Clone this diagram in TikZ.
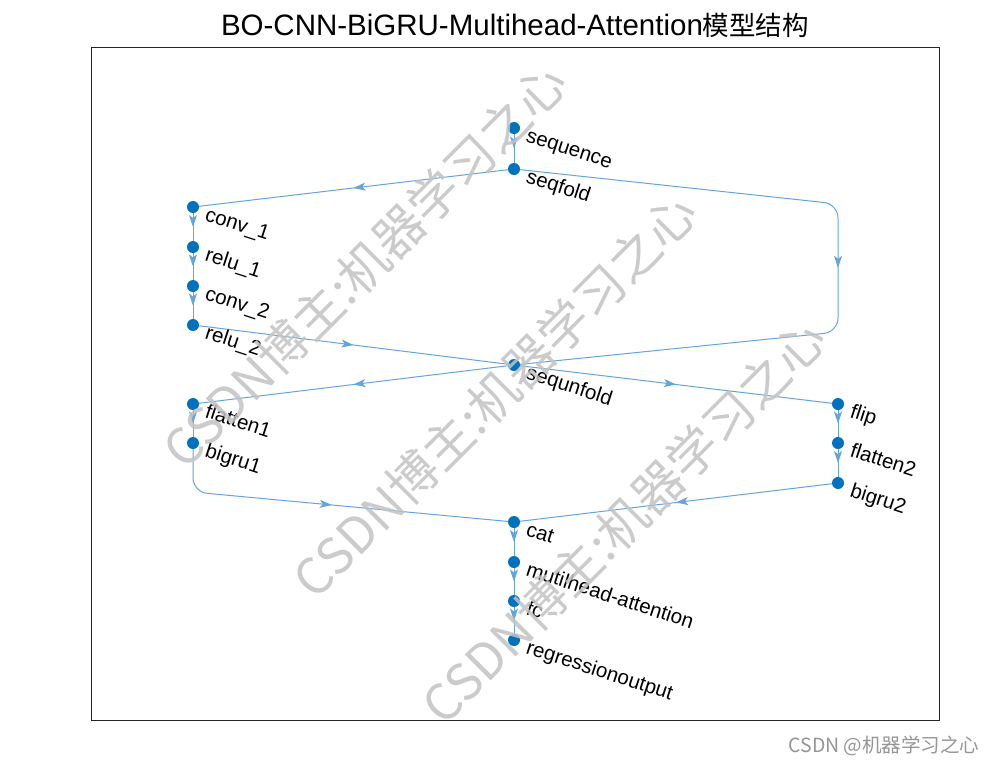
\documentclass[tikz,border=0pt]{standalone}
\usepackage{fontspec}
\setmainfont{Liberation Sans}
\newfontfamily\cjk{Noto Sans CJK SC}
\usetikzlibrary{arrows.meta,decorations.markings,backgrounds}
\definecolor{nodeblue}{RGB}{0,114,189}
\definecolor{edgeblue}{RGB}{100,165,222}
\definecolor{wmgray}{RGB}{195,195,195}
\definecolor{axisgray}{RGB}{38,38,38}
\tikzset{
  lay/.style={circle,fill=nodeblue,inner sep=0pt,minimum size=12pt},
  lab/.style={anchor=base west,rotate=-18,inner sep=0pt,font=\fontsize{20.5}{22}\selectfont,text=black},
  conn/.style={draw=edgeblue,line width=1pt,postaction={decorate},
    decoration={markings,mark=at position 0.5 with {\arrow[edgeblue]{Stealth[length=12pt,width=8pt,inset=3pt]}}}},
  wmark/.style={rotate=45,text=wmgray,font=\cjk\fontsize{50}{52}\selectfont,inner sep=0pt,opacity=0.85}
}
\begin{document}
\begin{tikzpicture}[x=1pt,y=-1pt]
\useasboundingbox (0,0) rectangle (1000,764);
% axes frame
\draw[axisgray,line width=0.8pt] (91,47) rectangle (939,720);
% title
\node (title) at (515,25) {\fontsize{29.5}{31}\selectfont BO-CNN-BiGRU-Multihead-Attention{\cjk\fontsize{26.5}{28}\selectfont 模型结构}};
% layers
\node[lay] (seq)  at (514,128) {};
\node[lay] (fold) at (514,169) {};
\node[lay] (c1)   at (193,207) {};
\node[lay] (r1)   at (193,247) {};
\node[lay] (c2)   at (193,286) {};
\node[lay] (r2)   at (193,325) {};
\node[lay] (unf)  at (514,365) {};
\node[lay] (fl1)  at (193,404) {};
\node[lay] (bg1)  at (193,443) {};
\node[lay] (flip) at (838,404) {};
\node[lay] (fl2)  at (838,443) {};
\node[lay] (bg2)  at (838,483) {};
\node[lay] (cat)  at (514,522) {};
\node[lay] (mha)  at (514,562) {};
\node[lay] (fc)   at (514,601) {};
\node[lay] (reg)  at (514,640) {};
% labels
\node[lab] (lseq)  at ([shift={(11,13)}]seq.center)  {sequence};
\node[lab] (lfold) at ([shift={(11,13)}]fold.center) {seqfold};
\node[lab] (lc1)   at ([shift={(11,13)}]c1.center)   {conv\_1};
\node[lab] (lr1)   at ([shift={(11,13)}]r1.center)   {relu\_1};
\node[lab] (lc2)   at ([shift={(11,13)}]c2.center)   {conv\_2};
\node[lab] (lr2)   at ([shift={(11,13)}]r2.center)   {relu\_2};
\node[lab] (lunf)  at ([shift={(11,13)}]unf.center)  {sequnfold};
\node[lab] (lfl1)  at ([shift={(11,13)}]fl1.center)  {flatten1};
\node[lab] (lbg1)  at ([shift={(11,13)}]bg1.center)  {bigru1};
\node[lab] (lflip) at ([shift={(11,13)}]flip.center) {flip};
\node[lab] (lfl2)  at ([shift={(11,13)}]fl2.center)  {flatten2};
\node[lab] (lbg2)  at ([shift={(11,13)}]bg2.center)  {bigru2};
\node[lab] (lcat)  at ([shift={(11,13)}]cat.center)  {cat};
\node[lab] (lmha)  at ([shift={(11,13)}]mha.center)  {mutilhead-attention};
\node[lab] (lfc)   at ([shift={(11,13)}]fc.center)   {fc};
\node[lab] (lreg)  at ([shift={(11,13)}]reg.center)  {regressionoutput};
% bend points
\coordinate (k1) at (838,204);
\coordinate (k2) at (838,332);
\coordinate (k3) at (193,492);
% connectors
\begin{scope}[on background layer]
\fill[white] (0,0) rectangle (1000,764);
\draw[conn] (seq.center) -- (fold.center);
\draw[conn] (fold.center) -- (c1.center);
\draw[conn,rounded corners=14pt] (fold.center) -- (k1) -- (k2) -- (unf.center);
\draw[conn] (c1.center) -- (r1.center);
\draw[conn] (r1.center) -- (c2.center);
\draw[conn] (c2.center) -- (r2.center);
\draw[conn] (r2.center) -- (unf.center);
\draw[conn] (unf.center) -- (fl1.center);
\draw[conn] (unf.center) -- (flip.center);
\draw[conn] (fl1.center) -- (bg1.center);
\draw[conn,rounded corners=14pt] (bg1.center) -- (k3) -- (cat.center);
\draw[conn] (flip.center) -- (fl2.center);
\draw[conn] (fl2.center) -- (bg2.center);
\draw[conn] (bg2.center) -- (cat.center);
\draw[conn] (cat.center) -- (mha.center);
\draw[conn] (mha.center) -- (fc.center);
\draw[conn] (fc.center) -- (reg.center);
\end{scope}
% watermarks
\node[wmark] (wm1) at (365,265) {CSDN博主:机器学习之心};
\node[wmark] (wm2) at (495,395) {CSDN博主:机器学习之心};
\node[wmark] (wm3) at (624,521) {CSDN博主:机器学习之心};
\node[font=\cjk\fontsize{19.5}{21}\selectfont,text={rgb,255:red,150;green,150;blue,150}] (credit) at (884,746) {CSDN @机器学习之心};
\end{tikzpicture}
\end{document}
